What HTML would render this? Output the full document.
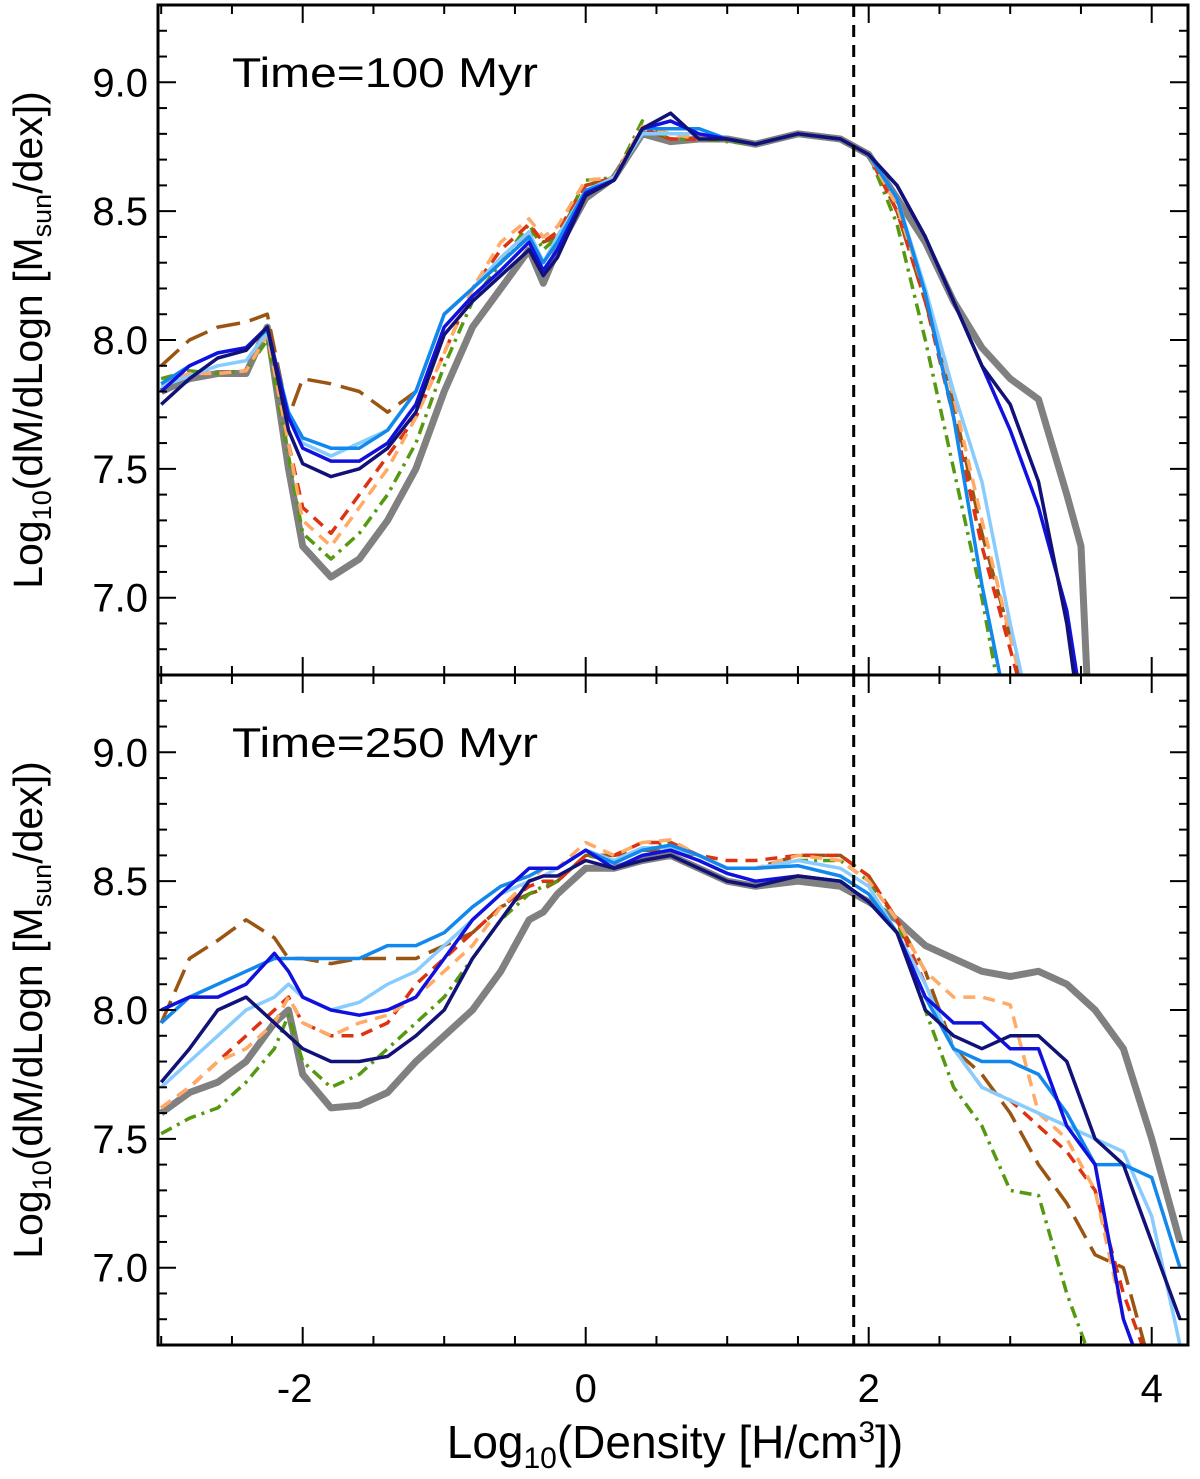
<!DOCTYPE html>
<html><head><meta charset="utf-8"><style>
html,body{margin:0;padding:0;background:#fff}
svg{display:block;font-family:"Liberation Sans",Arial,sans-serif}
</style></head><body>
<svg id="chart" width="1200" height="1479" viewBox="0 0 1200 1479">
<defs>
<clipPath id="clipTop"><rect x="158" y="5" width="1030" height="670"/></clipPath>
<clipPath id="clipBot"><rect x="158" y="675" width="1030" height="670"/></clipPath>
</defs>
<g id="plot"></g>
</svg>
<script>
// ---- data ----
const xTop = [-3,-2.8,-2.6,-2.4,-2.25,-2.1,-2,-1.8,-1.6,-1.4,-1.2,-1,-0.8,-0.6,-0.4,-0.3,-0.2,0,0.2,0.4,0.6,0.8,1,1.2,1.5,1.8,2,2.2,2.4,2.6,2.8,3.0,3.2,3.4,3.5,3.6];
const topGray   = [7.8,7.85,7.87,7.87,8.05,7.5,7.2,7.08,7.15,7.3,7.5,7.8,8.05,8.2,8.35,8.22,8.35,8.55,8.63,8.8,8.77,8.78,8.78,8.76,8.8,8.78,8.72,8.55,8.38,8.15,7.97,7.85,7.77,7.4,7.2,6.0];
const topGreen  = [7.85,7.88,7.87,7.88,8.0,7.55,7.25,7.15,7.25,7.4,7.6,7.9,8.15,8.3,8.45,8.35,8.4,8.62,8.63,8.85,8.78,8.78,8.77,8.76,8.8,8.78,8.72,8.45,8.0,7.5,7.0,6.4];
const topRed    = [7.83,7.87,7.87,7.88,8.02,7.6,7.35,7.25,7.4,7.55,7.7,7.95,8.2,8.35,8.45,8.38,8.42,8.6,8.63,8.82,8.78,8.78,8.78,8.76,8.8,8.78,8.72,8.5,8.15,7.7,7.2,6.8,6.4];
const topOrange = [7.83,7.87,7.87,7.88,8.02,7.6,7.3,7.2,7.35,7.5,7.7,7.95,8.2,8.38,8.47,8.4,8.44,8.62,8.63,8.83,8.8,8.78,8.78,8.76,8.8,8.78,8.72,8.52,8.18,7.78,7.3,6.85,6.4];
const topBrown  = [7.9,8.0,8.05,8.07,8.1,7.7,7.85,7.83,7.8,7.72,7.8,8.1,8.2,8.3,8.42,8.38,8.4,8.6,8.63,8.82,8.78,8.78,8.78,8.76,8.8,8.78,8.72,8.5,8.15,7.75,7.25,6.85,6.4];
const topLight  = [7.82,7.86,7.9,7.92,8.03,7.7,7.6,7.55,7.6,7.65,7.8,8.1,8.2,8.32,8.42,8.3,8.4,8.58,8.63,8.8,8.8,8.8,8.78,8.76,8.8,8.78,8.72,8.55,8.2,7.8,7.45,6.9,6.4];
const topMed    = [7.83,7.9,7.95,7.97,8.04,7.72,7.62,7.58,7.58,7.65,7.8,8.1,8.2,8.3,8.4,8.3,8.38,8.58,8.62,8.82,8.82,8.82,8.78,8.76,8.8,8.78,8.72,8.55,8.18,7.7,7.05,6.5];
const topBlue   = [7.8,7.9,7.95,7.97,8.05,7.7,7.58,7.53,7.53,7.6,7.75,8.05,8.17,8.27,8.38,8.27,8.35,8.57,8.62,8.82,8.85,8.8,8.78,8.76,8.8,8.78,8.72,8.6,8.4,8.15,7.9,7.65,7.35,6.95,6.6,6.3];
const topNavy   = [7.75,7.85,7.93,7.96,8.05,7.65,7.52,7.47,7.5,7.58,7.72,8.02,8.15,8.25,8.35,8.25,8.32,8.56,8.62,8.82,8.88,8.78,8.78,8.76,8.8,8.78,8.72,8.6,8.4,8.15,7.9,7.75,7.45,6.9,6.5,6.3];

const xBot = [-3,-2.8,-2.6,-2.4,-2.2,-2.1,-2,-1.8,-1.6,-1.4,-1.2,-1,-0.8,-0.6,-0.4,-0.3,-0.2,0,0.2,0.4,0.6,0.8,1,1.2,1.5,1.8,2,2.2,2.4,2.6,2.8,3.0,3.2,3.4,3.6,3.8,4.0,4.2];
const botGray   = [7.6,7.68,7.72,7.8,7.95,8.0,7.75,7.62,7.63,7.68,7.8,7.9,8.0,8.15,8.35,8.38,8.45,8.55,8.55,8.58,8.6,8.55,8.5,8.48,8.5,8.48,8.42,8.35,8.25,8.2,8.15,8.13,8.15,8.1,8.0,7.85,7.5,7.1];
const botGreen  = [7.52,7.58,7.62,7.72,7.85,7.98,7.8,7.7,7.75,7.85,7.95,8.05,8.2,8.35,8.45,8.48,8.5,8.6,8.58,8.62,8.65,8.6,8.55,8.55,8.58,8.58,8.5,8.35,8.0,7.7,7.55,7.3,7.28,6.9,6.6];
const botBrown  = [7.95,8.2,8.27,8.35,8.28,8.2,8.2,8.18,8.2,8.2,8.2,8.25,8.3,8.4,8.45,8.47,8.5,8.6,8.6,8.62,8.62,8.6,8.55,8.55,8.6,8.6,8.52,8.35,8.15,7.85,7.75,7.6,7.4,7.25,7.05,7.0,6.6];
const botRed    = [7.62,7.7,7.8,7.9,8.0,8.05,7.95,7.9,7.9,7.95,8.1,8.2,8.3,8.4,8.48,8.5,8.5,8.6,8.6,8.65,8.65,8.6,8.58,8.58,8.6,8.6,8.52,8.35,8.1,7.85,7.7,7.65,7.55,7.45,7.3,6.9,6.6];
const botOrange = [7.62,7.7,7.8,7.85,7.95,8.05,7.95,7.9,7.95,7.98,8.05,8.15,8.25,8.4,8.5,8.55,8.55,8.65,8.6,8.65,8.66,8.6,8.55,8.55,8.6,8.58,8.5,8.35,8.15,8.05,8.05,8.02,7.6,7.5,7.3,6.8,6.5];
const botLight  = [7.7,7.8,7.9,8.0,8.05,8.1,8.05,8.0,8.03,8.1,8.15,8.25,8.35,8.45,8.5,8.52,8.55,8.62,8.58,8.63,8.63,8.6,8.55,8.55,8.58,8.55,8.48,8.3,8.1,7.85,7.7,7.65,7.6,7.55,7.5,7.45,7.2,6.7];
const botMed    = [7.95,8.05,8.1,8.15,8.2,8.2,8.2,8.2,8.2,8.25,8.25,8.3,8.4,8.48,8.52,8.55,8.55,8.62,8.57,8.62,8.64,8.6,8.55,8.55,8.56,8.52,8.45,8.3,8.05,7.85,7.8,7.8,7.75,7.6,7.4,7.4,7.35,7.0];
const botBlue   = [8.0,8.05,8.05,8.1,8.22,8.15,8.05,8.0,7.98,8.0,8.05,8.2,8.35,8.45,8.55,8.55,8.55,8.62,8.55,8.6,8.62,8.58,8.53,8.5,8.52,8.5,8.42,8.3,8.05,7.95,7.95,7.85,7.85,7.55,7.4,6.8,6.5];
const botNavy   = [7.72,7.85,8.0,8.05,7.95,7.9,7.85,7.8,7.8,7.82,7.9,8.0,8.2,8.35,8.5,8.52,8.52,8.58,8.55,8.58,8.6,8.55,8.5,8.48,8.52,8.5,8.42,8.3,8.0,7.9,7.85,7.9,7.9,7.8,7.5,7.4,7.1,6.8];

const xTickVals = [-2,0,2,4];
const yTickVals = [7.0,7.5,8.0,8.5,9.0];
const threshold = 1.894;
const panelTitles = ["Time=100 Myr","Time=250 Myr"];

// ---- layout ----
const L=158,R=1188,PT=[5,675],PH=670;
const X0=-3.0226,X1=4.2565;
const Y0=6.70,Y1=9.30;
const sx=v=>L+(v-X0)/(X1-X0)*(R-L);
const sy=(p,v)=>PT[p]+(Y1-v)/(Y1-Y0)*PH;
const NS="http://www.w3.org/2000/svg";
const root=document.getElementById('plot');
function mk(tag,attrs,parent){const e=document.createElementNS(NS,tag);for(const k in attrs)e.setAttribute(k,attrs[k]);(parent||root).appendChild(e);return e;}

const styles=[
 {k:'gray',c:'#808080',w:7,d:''},
 {k:'brown',c:'#995511',w:3.5,d:'24,10'},
 {k:'green',c:'#559911',w:3.5,d:'12,6,3,6'},
 {k:'red',c:'#dd3311',w:3.5,d:'12,8'},
 {k:'orange',c:'#ffaa66',w:3.5,d:'12,8'},
 {k:'light',c:'#88ccff',w:3.5,d:''},
 {k:'med',c:'#1188ee',w:3.5,d:''},
 {k:'blue',c:'#1111dd',w:3.5,d:''},
 {k:'navy',c:'#111177',w:3.5,d:''}
];
const panels=[
 {x:xTop,s:{gray:topGray,brown:topBrown,green:topGreen,red:topRed,orange:topOrange,light:topLight,med:topMed,blue:topBlue,navy:topNavy},clip:'clipTop'},
 {x:xBot,s:{gray:botGray,brown:botBrown,green:botGreen,red:botRed,orange:botOrange,light:botLight,med:botMed,blue:botBlue,navy:botNavy},clip:'clipBot'}
];

panels.forEach((P,p)=>{
  const g=mk('g',{'clip-path':'url(#'+P.clip+')'});
  
  
  styles.forEach(st=>{
    const ys=P.s[st.k];
    const pts=ys.map((v,i)=>sx(P.x[i]).toFixed(1)+','+sy(p,v).toFixed(1)).join(' ');
    const pl=mk('polyline',{points:pts,fill:'none',stroke:st.c,'stroke-width':st.w,'stroke-dasharray':st.d,'stroke-linejoin':'round'},g);
    
    
  });
  const th=mk('line',{x1:sx(threshold),x2:sx(threshold),y1:PT[p],y2:PT[p]+PH,stroke:'#000','stroke-width':3,'stroke-dasharray':'12,8'});
  
  
  for(let v=-3;v<=4.25;v+=0.5){
    const X=sx(v);const major=Math.abs(v-Math.round(v/2)*2)<1e-6;const len=major?18:9;
    mk('line',{x1:X,x2:X,y1:PT[p]+PH,y2:PT[p]+PH-len,stroke:'#000','stroke-width':2});
    mk('line',{x1:X,x2:X,y1:PT[p],y2:PT[p]+len,stroke:'#000','stroke-width':2});
  }
  for(let v=6.8;v<=9.25;v+=0.1){
    const Y=sy(p,v);const major=Math.abs(v*2-Math.round(v*2))<1e-6;const len=major?18:9;
    mk('line',{x1:L,x2:L+len,y1:Y,y2:Y,stroke:'#000','stroke-width':2});
    mk('line',{x1:R,x2:R-len,y1:Y,y2:Y,stroke:'#000','stroke-width':2});
  }
  yTickVals.forEach(v=>{
    const t=mk('text',{x:L-10,y:sy(p,v)+14,'text-anchor':'end','font-size':40});
    t.textContent=v.toFixed(1);
    
    
  });
  const tt=mk('text',{x:232,y:PT[p]+82,'font-size':42,'textLength':306,'lengthAdjust':'spacingAndGlyphs'});
  tt.textContent=panelTitles[p];
  
  
  const yl=mk('text',{transform:'translate(42,'+(PT[p]+335)+') rotate(-90)','text-anchor':'middle','font-size':41});
  yl.innerHTML='Log<tspan font-size="27" dy="9">10</tspan><tspan dy="-9">(dM/dLogn [M</tspan><tspan font-size="27" dy="9">sun</tspan><tspan dy="-9">/dex])</tspan>';
  
  
  const fr=mk('rect',{x:L,y:PT[p],width:R-L,height:PH,fill:'none',stroke:'#000','stroke-width':3});
  
  
});
xTickVals.forEach(v=>{
  const t=mk('text',{x:sx(v)-(v<0?8:0),y:1402,'text-anchor':'middle','font-size':40});
  t.textContent=v;
  
  
});
const xl=mk('text',{x:675,y:1458,'text-anchor':'middle','font-size':46});
xl.innerHTML='Log<tspan font-size="30" dy="10">10</tspan><tspan dy="-10">(Density [H/cm</tspan><tspan font-size="30" dy="-16">3</tspan><tspan dy="16">])</tspan>';


</script>
</body></html>
